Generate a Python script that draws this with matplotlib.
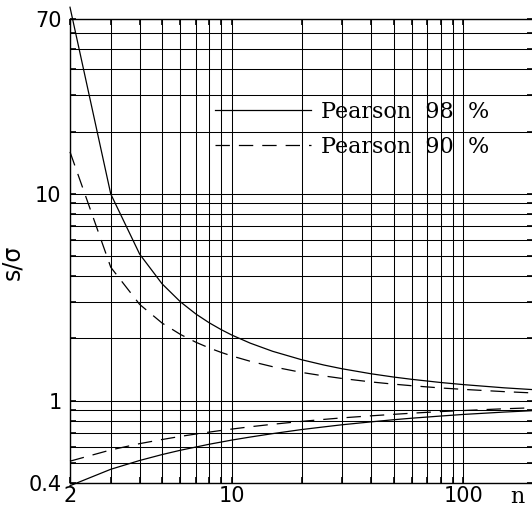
import matplotlib
matplotlib.use("Agg")
import matplotlib.pyplot as plt
from matplotlib.font_manager import FontProperties

# sample size n
n = [2, 3, 4, 5, 6, 7, 8, 9, 10, 12, 15, 20, 25, 30, 40, 50, 60, 80, 100, 150, 200]

# Pearson 98 % band (upper / lower)
p98_up = [79.8, 9.975, 5.107, 3.670, 3.004, 2.623, 2.377, 2.205, 2.076, 1.898, 1.733,
          1.578, 1.487, 1.426, 1.349, 1.301, 1.268, 1.224, 1.196, 1.154, 1.131]
p98_lo = [0.388, 0.466, 0.514, 0.549, 0.576, 0.597, 0.616, 0.631, 0.645, 0.667, 0.693,
          0.725, 0.747, 0.765, 0.790, 0.809, 0.823, 0.843, 0.858, 0.881, 0.895]

# Pearson 90 % band (upper / lower)
p90_up = [15.95, 4.415, 2.919, 2.372, 2.090, 1.916, 1.797, 1.711, 1.645, 1.551, 1.460,
          1.370, 1.317, 1.280, 1.232, 1.202, 1.181, 1.152, 1.134, 1.106, 1.090]
p90_lo = [0.510, 0.578, 0.620, 0.649, 0.672, 0.690, 0.705, 0.718, 0.729, 0.748, 0.769,
          0.794, 0.812, 0.826, 0.845, 0.859, 0.870, 0.886, 0.896, 0.914, 0.924]

xgrid = [2, 3, 4, 5, 6, 7, 8, 9, 10, 20, 30, 40, 50, 60, 70, 80, 90, 100, 200]
xlabels = {2: "2", 10: "10", 100: "100"}
ygrid = [0.4, 0.5, 0.6, 0.7, 0.8, 0.9, 1, 2, 3, 4, 5, 6, 7, 8, 9, 10, 20, 30, 40, 50, 60, 70]
ylabels = {0.4: "0.4", 1: "1", 10: "10", 70: "70"}

plt.rcParams["font.family"] = "DejaVu Sans"
fig = plt.figure(figsize=(5.32, 5.08), dpi=100)
ax = fig.add_axes([70 / 532, 25 / 508, 463 / 532, 464 / 508])

dash = (0, (11.5, 7.2))
lw = 0.9
ax.plot(n, p98_up, color="black", lw=lw, clip_on=False, label="Pearson  98  %")
ax.plot(n, p98_lo, color="black", lw=lw, clip_on=False)
ax.plot(n, p90_up, color="black", lw=lw, ls=dash, clip_on=False, label="Pearson  90  %")
ax.plot(n, p90_lo, color="black", lw=lw, ls=dash, clip_on=False)

ax.set_xscale("log")
ax.set_yscale("log")
ax.set_xlim(2, 200)
ax.set_ylim(0.4, 70)

ax.set_xticks(xgrid)
ax.set_xticklabels([xlabels.get(v, "") for v in xgrid])
ax.set_yticks(ygrid)
ax.set_yticklabels([ylabels.get(v, "") for v in ygrid])
ax.minorticks_off()
ax.tick_params(axis="both", which="major", direction="in", length=4, width=1.2,
               labelsize=15, color="black", right=True, top=True)
ax.tick_params(axis="y", pad=6)
ax.tick_params(axis="x", pad=2.5)
ax.grid(True, which="major", color="black", lw=0.75)
ax.set_axisbelow(True)
for side in ["left", "bottom", "top"]:
    ax.spines[side].set_linewidth(1.0)
ax.spines["right"].set_visible(False)

ax.set_ylabel("s/σ", fontsize=17)
ax.yaxis.set_label_coords(-0.10, 0.476)
ax.set_xlabel("n", fontsize=16, fontfamily="DejaVu Serif", va="baseline")
ax.xaxis.set_label_coords(0.967, -0.043)

ax.legend(frameon=False, loc="upper left", bbox_to_anchor=(0.314, 0.823),
          prop=FontProperties(family="DejaVu Serif", size=16),
          handlelength=4.3, handletextpad=0.45, labelspacing=0.58,
          borderpad=0, borderaxespad=0)

fig.savefig("out.png", dpi=100)
